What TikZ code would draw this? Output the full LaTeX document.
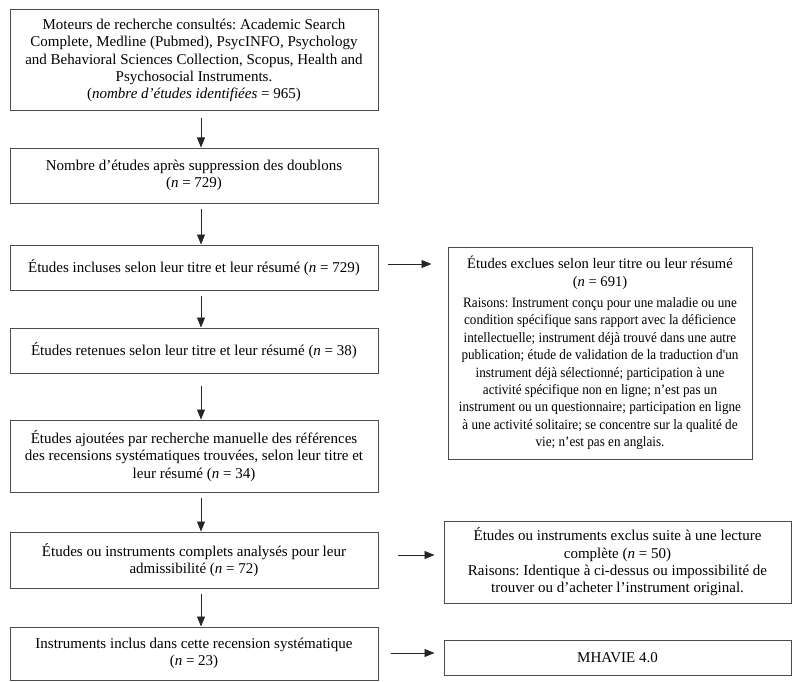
\documentclass[tikz,border=0pt]{standalone}
\usepackage{fontspec}
\setmainfont{Liberation Serif}
\newfontfamily\condensedserif{Liberation Serif}[FakeStretch=0.92]
\usetikzlibrary{arrows.meta}
\frenchspacing
\begin{document}
\begin{tikzpicture}[x=1pt,y=-1pt,
  box/.style={draw=black!70, line width=1pt, align=flush center, inner xsep=2pt, inner ysep=0pt,
    font=\fontsize{15}{17.3}\selectfont\frenchspacing},
  arr/.style={-{Triangle[length=10pt,width=8pt]}, line width=0.8pt, draw=black!85}]
\useasboundingbox (0,0) rectangle (800,682);
\coordinate (ax) at (201,0);
\coordinate (ya) at (0,264);
\coordinate (yb) at (0,555);
\coordinate (yc) at (0,653);
% left column
\node[box, minimum width=368pt, minimum height=101pt, text width=364pt] (b1) at (194,60.5)
 {Moteurs de recherche consultés: Academic Search\\
  Complete, Medline (Pubmed), PsycINFO, Psychology\\
  and Behavioral Sciences Collection, Scopus, Health and\\
  Psychosocial Instruments.\\
  (\textit{nombre d’études identifiées} = 965)};
\node[box, minimum width=368pt, minimum height=55pt, text width=364pt] (b2) at (194,175.5)
 {Nombre d’études après suppression des doublons\\ (\textit{n} = 729)};
\node[box, minimum width=368pt, minimum height=45pt, text width=364pt] (b3) at (194,267.5)
 {Études incluses selon leur titre et leur résumé (\textit{n} = 729)};
\node[box, minimum width=368pt, minimum height=45pt, text width=364pt] (b4) at (194,350.5)
 {Études retenues selon leur titre et leur résumé (\textit{n} = 38)};
\node[box, minimum width=368pt, minimum height=72pt, text width=364pt] (b5) at (194,456)
 {Études ajoutées par recherche manuelle des références\\
  des recensions systématiques trouvées, selon leur titre et\\
  leur résumé (\textit{n} = 34)};
\node[box, minimum width=368pt, minimum height=56pt, text width=364pt] (b6) at (194,560)
 {Études ou instruments complets analysés pour leur\\ admissibilité (\textit{n} = 72)};
\node[box, minimum width=368pt, minimum height=53pt, text width=364pt] (b7) at (194,653.5)
 {Instruments inclus dans cette recension systématique\\ (\textit{n} = 23)};
% right column
\node[box, minimum width=304pt, minimum height=212pt, text width=300pt] (rA) at (600,353)
 {\fontsize{14.6}{17.3}\selectfont Études exclues selon leur titre ou leur résumé\\
  (\textit{n} = 691)\\[4pt]
  \condensedserif\fontsize{14.3}{17.4}\selectfont
  Raisons: Instrument conçu pour une maladie ou une\\
  condition spécifique sans rapport avec la déficience\\
  intellectuelle; instrument déjà trouvé dans une autre\\
  publication; étude de validation de la traduction d\textquotesingle un\\
  instrument déjà sélectionné; participation à une\\
  activité spécifique non en ligne; n’est pas un\\
  instrument ou un questionnaire; participation en ligne\\
  à une activité solitaire; se concentre sur la qualité de\\
  vie; n’est pas en anglais.};
\node[box, minimum width=347pt, minimum height=82pt, text width=343pt] (rB) at (617.5,562)
 {Études ou instruments exclus suite à une lecture\\
  complète (\textit{n} = 50)\\
  Raisons: Identique à ci-dessus ou impossibilité de\\
  trouver ou d’acheter l’instrument original.};
\node[box, minimum width=347pt, minimum height=35pt, text width=343pt] (rC) at (617.5,657.5)
 {MHAVIE 4.0};
% vertical arrows
\draw[arr, shorten <=7pt] (b1.south -| ax) -- (b2.north -| ax);
\draw[arr, shorten <=5pt] (b2.south -| ax) -- (b3.north -| ax);
\draw[arr, shorten <=5pt] (b3.south -| ax) -- (b4.north -| ax);
\draw[arr, shorten <=12pt] (b4.south -| ax) -- (b5.north -| ax);
\draw[arr, shorten <=5pt] (b5.south -| ax) -- (b6.north -| ax);
\draw[arr, shorten <=5pt] (b6.south -| ax) -- (b7.north -| ax);
% horizontal arrows
\draw[arr, shorten <=9pt, shorten >=16pt] (b3.east |- ya) -- (rA.west |- ya);
\draw[arr, shorten <=19pt, shorten >=9pt] (b6.east |- yb) -- (rB.west |- yb);
\draw[arr, shorten <=12pt, shorten >=9pt] (b7.east |- yc) -- (rC.west |- yc);
\end{tikzpicture}
\end{document}
